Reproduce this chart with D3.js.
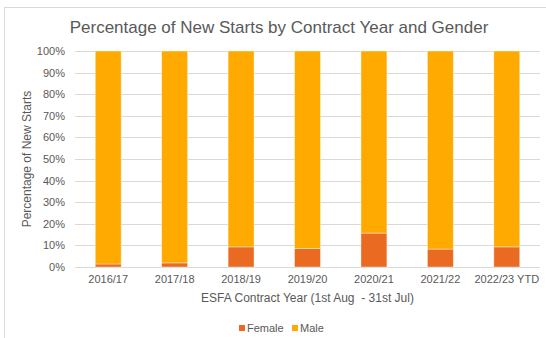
<!DOCTYPE html>
<html>
<head>
<meta charset="utf-8">
<script src="https://cdn.jsdelivr.net/npm/d3@7"></script>
<style>
  body { margin: 0; background: #fff; }
  text { font-family: "Liberation Sans", Arial, sans-serif; fill: #595959; }
</style>
</head>
<body>
<svg id="chart" width="546" height="338"></svg>
<script>
const years = ["2016/17", "2017/18", "2018/19", "2019/20", "2020/21", "2021/22", "2022/23 YTD"];
const female = [1.4, 1.9, 9.3, 8.6, 15.7, 8.3, 9.3];
const male = female.map(f => 100 - f);
const keys = ["Female", "Male"];
const colors = ["#EB6A22", "#FFAA00"];
const yTicks = [0, 10, 20, 30, 40, 50, 60, 70, 80, 90, 100];

const svg = d3.select("#chart"),
  margin = {top: 51, right: 6, bottom: 71, left: 75},
  width = +svg.attr("width") - margin.left - margin.right,
  height = +svg.attr("height") - margin.top - margin.bottom;

// chart border
svg.append("rect")
    .attr("x", 4.5).attr("y", 7.5)
    .attr("width", 600).attr("height", 400)
    .attr("fill", "none")
    .attr("stroke", "#D9D9D9");

svg.append("text")
    .attr("x", 279).attr("y", 33)
    .attr("text-anchor", "middle")
    .style("font-size", "17px")
    .text("Percentage of New Starts by Contract Year and Gender");

const g = svg.append("g")
    .attr("transform", "translate(" + margin.left + "," + margin.top + ")");

const x = d3.scaleBand().domain(years).range([0, width])
    .paddingInner(0.61).paddingOuter(0.305);
const y = d3.scaleLinear().domain([0, 100]).range([height, 0]);
const color = d3.scaleOrdinal().domain(keys).range(colors);

// gridlines
g.append("g").selectAll("line")
  .data(yTicks)
  .join("line")
    .attr("x1", 0).attr("x2", width)
    .attr("y1", d => Math.round(y(d)) + 0.5)
    .attr("y2", d => Math.round(y(d)) + 0.5)
    .attr("stroke", "#D9D9D9");

const table = years.map((yr, i) => ({year: yr, Female: female[i], Male: male[i]}));
const stack = d3.stack().keys(keys)(table);

g.append("g").selectAll("g")
  .data(stack)
  .join("g")
    .attr("fill", d => color(d.key))
  .selectAll("rect")
  .data(d => d)
  .join("rect")
    .attr("x", d => x(d.data.year))
    .attr("width", x.bandwidth())
    .attr("y", d => y(d[1]))
    .attr("height", d => y(d[0]) - y(d[1]))
    .attr("stroke", "#fff")
    .attr("stroke-opacity", 0.5)
    .attr("stroke-width", 0.75);

// y axis labels
const yAxis = g.append("g")
    .call(d3.axisLeft(y).tickValues(yTicks).tickFormat(d => d + "%").tickSize(0).tickPadding(10));
yAxis.select(".domain").remove();
yAxis.selectAll("text")
    .style("font-size", "11px")
    .attr("fill", "#595959")
    .style("font-family", "Liberation Sans, Arial, sans-serif");

// x axis labels
const xAxis = g.append("g")
    .attr("transform", "translate(0," + height + ")")
    .call(d3.axisBottom(x).tickSize(0).tickPadding(8));
xAxis.select(".domain").remove();
xAxis.selectAll("text")
    .style("font-size", "11px")
    .attr("fill", "#595959")
    .style("font-family", "Liberation Sans, Arial, sans-serif");

// axis titles
svg.append("text")
    .attr("transform", "translate(31," + (margin.top + height / 2) + ") rotate(-90)")
    .attr("text-anchor", "middle")
    .style("font-size", "12px")
    .text("Percentage of New Starts");

svg.append("text")
    .attr("x", margin.left + width / 2).attr("y", 302)
    .attr("text-anchor", "middle")
    .style("font-size", "12px")
    .style("white-space", "pre")
    .text("ESFA Contract Year (1st Aug  - 31st Jul)");

// legend
const legend = svg.append("g").attr("transform", "translate(239,332)");
const lx = [0, 53];
keys.forEach((k, i) => {
  const item = legend.append("g").attr("transform", "translate(" + lx[i] + ",0)");
  item.append("rect")
      .attr("x", 0).attr("y", -7)
      .attr("width", 6).attr("height", 6)
      .attr("fill", color(k));
  item.append("text")
      .attr("x", 8).attr("y", 0)
      .style("font-size", "11px")
      .text(k);
});
</script>
</body>
</html>
